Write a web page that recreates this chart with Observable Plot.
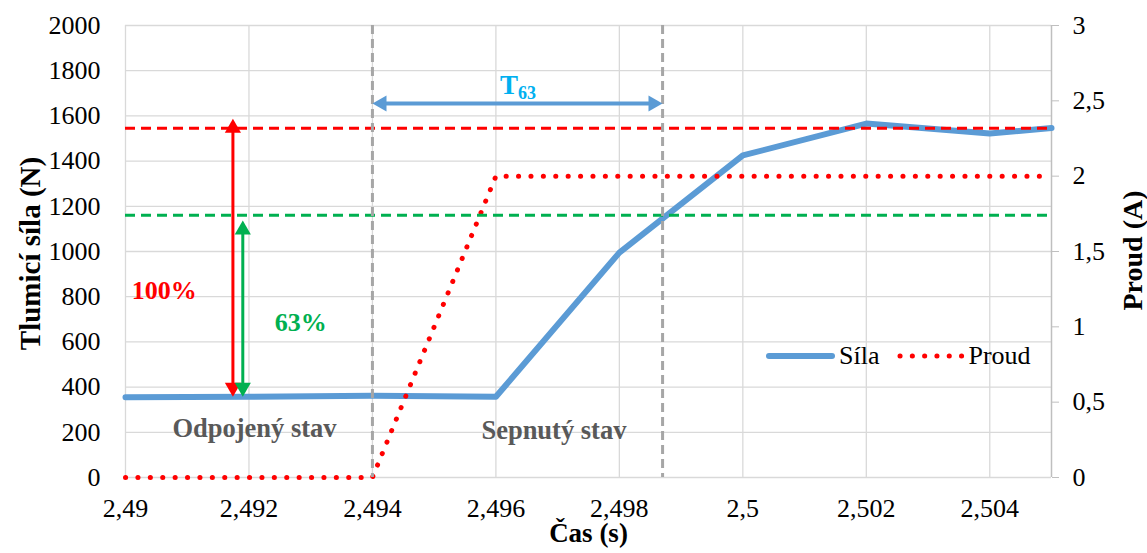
<!DOCTYPE html>
<html><head><meta charset="utf-8">
<script src="https://cdn.jsdelivr.net/npm/d3@7"></script>
<script src="https://cdn.jsdelivr.net/npm/@observablehq/plot@0.6"></script>
<style>
body{margin:0;background:#fff;}
#wrap{position:relative;width:1147px;height:553px;}
#wrap svg, #wrap svg text{font-family:"Liberation Serif","DejaVu Serif","Times New Roman",Times,serif !important;}
#wrap svg text.sans{font-family:Lato,"Open Sans",sans-serif !important;}
#legend{position:absolute;left:766px;top:341px;font-family:"Liberation Serif","DejaVu Serif","Times New Roman",Times,serif;font-size:26px;display:flex;align-items:center;color:#000;}
#legend svg{display:block}
</style></head><body><div id="wrap"></div>
<script>
// ---- data ----
const casSila = [2.49, 2.492, 2.494, 2.496, 2.498, 2.5, 2.502, 2.504, 2.505];
const sila    = [355, 357, 362, 357, 995, 1425, 1566, 1522, 1546];
const casProud = [2.49, 2.494, 2.496, 2.505];
const proud    = [0, 0, 2, 2];
const xTicks = [2.49, 2.492, 2.494, 2.496, 2.498, 2.5, 2.502, 2.504];
const xTickLabels = ["2,49","2,492","2,494","2,496","2,498","2,5","2,502","2,504"];
const yTicks = [0,200,400,600,800,1000,1200,1400,1600,1800,2000];
const yTickLabels = ["0","200","400","600","800","1000","1200","1400","1600","1800","2000"];
const y2Ticks = [0,0.5,1,1.5,2,2.5,3];
const y2TickLabels = ["0","0,5","1","1,5","2","2,5","3"];
const xDomain = [2.49, 2.505];
const yDomain = [0, 2000];
const y2Max = 3;
const level100 = 1545, level63 = 1160, levelBase = 357;
const tStart = 2.494, tEnd = 2.4987, tArrowLevel = 1655;
const arrow100X = 2.49174, arrow100Top = 1588;
const arrow63X = 2.4919, arrow63Top = 1137;
const labelT = ["T", "63"], labelTX = 2.49636, labelTY = 1735;
const label100 = "100%", label100X = 2.4901, label100Y = 827;
const label63 = "63%", label63X = 2.49284, label63Y = 686;
const labelOff = "Odpojený stav", labelOffX = 2.49209, labelOffY = 217;
const labelOn = "Sepnutý stav", labelOnX = 2.49694, labelOnY = 208;

const serif = "Liberation Serif, DejaVu Serif, Times New Roman, serif";
const k = yDomain[1] / y2Max; // N per A for the secondary axis
const silaData = casSila.map((x, i) => ({x, y: sila[i]}));
const proudData = casProud.map((x, i) => ({x, y: proud[i] * k}));
const heads = [
  {x: arrow100X, y: arrow100Top, c: "#ff0000"},
  {x: arrow63X, y: arrow63Top, c: "#00b050"}
];
const headsDown = [
  {x: arrow100X, y: levelBase, c: "#ff0000"},
  {x: arrow63X, y: levelBase, c: "#00b050"}
];
const hOff = 9.4;

const plot = Plot.plot({
  width: 1147, height: 553,
  marginLeft: 125, marginRight: 96, marginTop: 25, marginBottom: 76,
  style: {background: "#fff", color: "#000", fontFamily: serif},
  x: {domain: xDomain},
  y: {domain: yDomain},
  marks: [
    Plot.gridX(xTicks, {stroke: "#d9d9d9", strokeOpacity: 1, strokeWidth: 1.3}),
    Plot.gridY(yTicks, {stroke: "#d9d9d9", strokeOpacity: 1, strokeWidth: 1.3}),
    Plot.ruleX([xDomain[1]], {stroke: "#bfbfbf", strokeWidth: 1.5}),
    Plot.axisY(yTicks, {anchor: "left", tickSize: 0, tickPadding: 25, fontSize: 26, fontFamily: serif, label: null, tickFormat: (d, i) => yTickLabels[i]}),
    Plot.axisY(y2Ticks.map(v => v * k), {anchor: "right", tickSize: 7, stroke: "#bfbfbf", tickPadding: 14, fontSize: 26, fontFamily: serif, label: null, tickFormat: (d, i) => y2TickLabels[i]}),
    Plot.axisX(xTicks, {tickSize: 0, tickPadding: 21, fontSize: 26, fontFamily: serif, label: null, tickFormat: (d, i) => xTickLabels[i]}),
    Plot.text(["Tlumicí síla (N)"], {frameAnchor: "left", textAnchor: "middle", rotate: -90, dx: -95, dy: 2, fontSize: 29, fontWeight: "bold", fontFamily: serif}),
    Plot.text(["Proud (A)"], {frameAnchor: "right", textAnchor: "middle", rotate: -90, dx: 82, dy: -1, fontSize: 28, fontWeight: "bold", fontFamily: serif}),
    Plot.text(["Čas (s)"], {frameAnchor: "bottom", dy: 64, fontSize: 27, fontWeight: "bold", className: "sans", fontFamily: "Lato"}),
    Plot.line(silaData, {x: "x", y: "y", stroke: "#5b9bd5", strokeWidth: 6, strokeLinejoin: "round"}),
    Plot.line(proudData, {x: "x", y: "y", stroke: "#ff0000", strokeWidth: 5, strokeDasharray: "0.1,12.3", strokeLinecap: "round"}),
    Plot.ruleY([level100], {stroke: "#ff0000", strokeWidth: 3, strokeDasharray: "10,6"}),
    Plot.ruleY([level63], {stroke: "#00b050", strokeWidth: 3, strokeDasharray: "10,6"}),
    Plot.ruleX([tStart, tEnd], {stroke: "#a6a6a6", strokeWidth: 3, strokeDasharray: "9,5"}),
    Plot.ruleX([arrow100X], {y1: arrow100Top, y2: levelBase, stroke: "#ff0000", strokeWidth: 3, insetTop: 8, insetBottom: 8}),
    Plot.ruleX([arrow63X], {y1: arrow63Top, y2: levelBase, stroke: "#00b050", strokeWidth: 3, insetTop: 8, insetBottom: 8}),
    Plot.ruleY([tArrowLevel], {x1: tStart, x2: tEnd, stroke: "#5b9bd5", strokeWidth: 4, insetLeft: 8, insetRight: 8}),
    Plot.dot(heads, {x: "x", y: "y", symbol: "triangle", r: 6, fill: "c", stroke: null, dy: hOff}),
    Plot.dot(headsDown, {x: "x", y: "y", symbol: "triangle", r: 6, fill: "c", stroke: null, rotate: 180, dy: -hOff}),
    Plot.dot([{x: tStart, y: tArrowLevel}], {x: "x", y: "y", symbol: "triangle", r: 6, fill: "#5b9bd5", rotate: -90, dx: hOff}),
    Plot.dot([{x: tEnd, y: tArrowLevel}], {x: "x", y: "y", symbol: "triangle", r: 6, fill: "#5b9bd5", rotate: 90, dx: -hOff}),
    Plot.text([labelT[0]], {x: labelTX, y: labelTY, text: d => d, textAnchor: "end", fontSize: 27, fontWeight: "bold", fill: "#00b0f0", fontFamily: serif}),
    Plot.text([labelT[1]], {x: labelTX, y: labelTY, text: d => d, textAnchor: "start", dy: 8, fontSize: 18, fontWeight: "bold", fill: "#00b0f0", fontFamily: serif}),
    Plot.text([label100], {x: label100X, y: label100Y, text: d => d, textAnchor: "start", fontSize: 26, fontWeight: "bold", fill: "#ff0000", fontFamily: serif}),
    Plot.text([label63], {x: label63X, y: label63Y, text: d => d, fontSize: 26, fontWeight: "bold", fill: "#00b050", fontFamily: serif}),
    Plot.text([labelOff], {x: labelOffX, y: labelOffY, text: d => d, fontSize: 26.5, fontWeight: "bold", fill: "#595959", fontFamily: serif}),
    Plot.text([labelOn], {x: labelOnX, y: labelOnY, text: d => d, fontSize: 26.5, fontWeight: "bold", fill: "#595959", fontFamily: serif})
  ]
});
const wrap = document.getElementById("wrap");
wrap.appendChild(plot);
const legend = document.createElement("div");
legend.id = "legend";
legend.innerHTML =
  '<svg width="70" height="12"><line x1="3" y1="6" x2="66" y2="6" stroke="#5b9bd5" stroke-width="6" stroke-linecap="round"/></svg>' +
  '<span style="margin-left:3px">Síla</span>' +
  '<svg width="70" height="12" style="margin-left:18px"><line x1="3" y1="6" x2="67" y2="6" stroke="#ff0000" stroke-width="5" stroke-dasharray="0.1,12.2" stroke-linecap="round"/></svg>' +
  '<span style="margin-left:1px">Proud</span>';
wrap.appendChild(legend);
</script></body></html>
